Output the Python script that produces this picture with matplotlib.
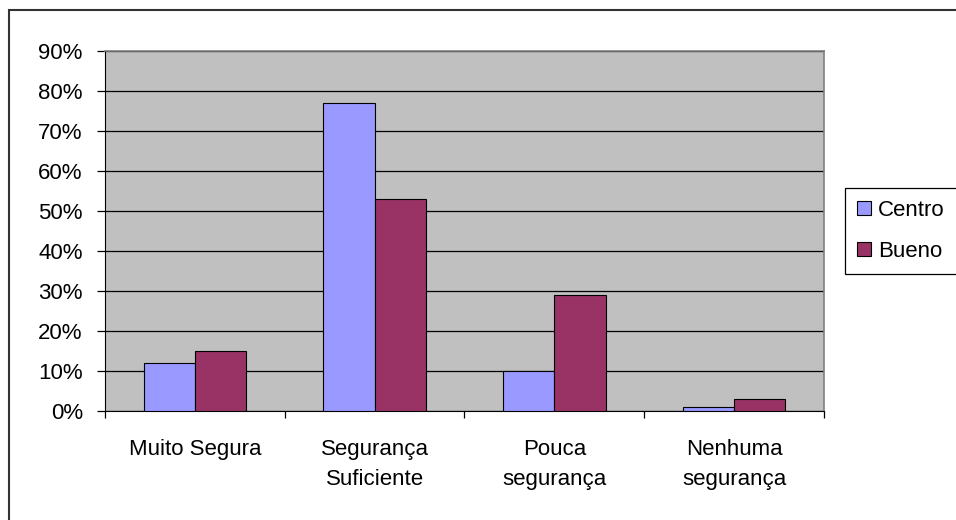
import matplotlib.pyplot as plt
import numpy as np
from matplotlib.patches import Rectangle
from matplotlib.ticker import PercentFormatter

plt.rcParams['font.family'] = ['Liberation Sans', 'DejaVu Sans']

categories = ["Muito Segura", "Segurança\nSuficiente", "Pouca\nsegurança", "Nenhuma\nsegurança"]
centro = [12, 77, 10, 1]
bueno = [15, 53, 29, 3]
series_names = ["Centro", "Bueno"]
colors = ["#9999FF", "#993366"]

fig = plt.figure(figsize=(9.56, 5.2), dpi=100)
ax = fig.add_axes([105 / 956, 109 / 520, 719 / 956, 360 / 520])

# outer chart border (runs off the right and bottom edges)
fig.patches.append(Rectangle((8.5 / 956, -0.1), 1.2, 1 - 9.5 / 520 + 0.1,
                             transform=fig.transFigure, fill=False,
                             edgecolor="#333333", linewidth=1.5))

x = np.arange(len(categories))
w = 1 / 3.5
ax.bar(x - w / 2, centro, w, color=colors[0], edgecolor="black", linewidth=0.8,
       label=series_names[0], zorder=3)
ax.bar(x + w / 2, bueno, w, color=colors[1], edgecolor="black", linewidth=0.8,
       label=series_names[1], zorder=3)

ax.set_facecolor("#C0C0C0")
ax.set_xlim(-0.5, len(categories) - 0.5)
ax.set_ylim(0, 90)
ax.set_yticks(np.arange(0, 91, 10))
ax.yaxis.set_major_formatter(PercentFormatter(decimals=0))
ax.grid(axis="y", color="black", linewidth=0.9, zorder=1)
ax.set_axisbelow(True)

ax.set_xticks(x)
ax.set_xticklabels(categories, va="top", linespacing=1.6)
ax.set_xticks(np.arange(-0.5, len(categories)), minor=True)
ax.tick_params(axis="x", which="major", length=0, pad=20, labelsize=16)
ax.tick_params(axis="x", which="minor", length=5, width=0.9, direction="out")
ax.tick_params(axis="y", length=6, width=0.9, direction="out", pad=10, labelsize=16)

for side in ["top", "right"]:
    ax.spines[side].set_color("#808080")
    ax.spines[side].set_linewidth(1.2)
ax.spines["left"].set_color("black")
ax.spines["bottom"].set_color("black")

leg = ax.legend(loc="upper left", bbox_to_anchor=(845 / 956, 1 - 188 / 520),
                bbox_transform=fig.transFigure, fancybox=False, edgecolor="black",
                framealpha=1, fontsize=16, handlelength=0.6, handleheight=0.6,
                handletextpad=0.35, labelspacing=0.88, borderpad=0.55,
                borderaxespad=0)
leg.get_frame().set_linewidth(0.9)

fig.savefig("out.png", dpi=100)
